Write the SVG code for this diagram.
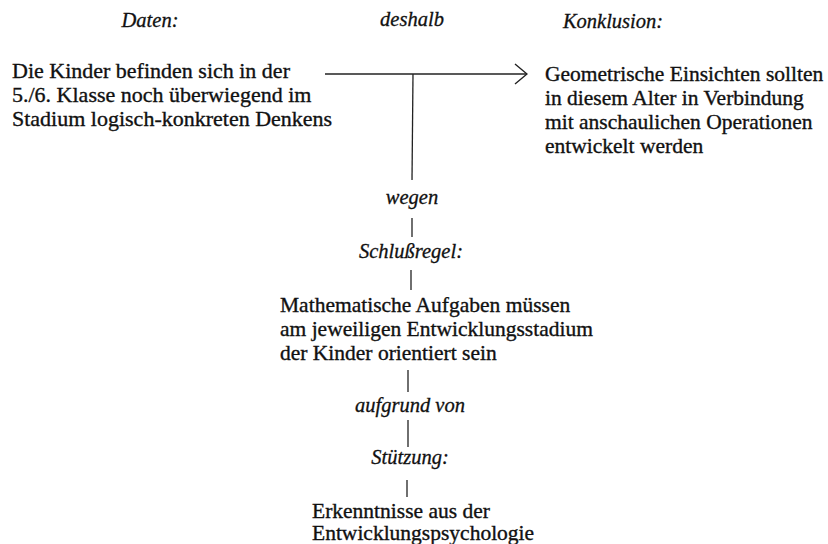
<svg xmlns="http://www.w3.org/2000/svg" width="828" height="544" viewBox="0 0 828 544">
<style>
.t{font-family:"Liberation Serif","Times New Roman",serif;font-size:21.5px;fill:#111;stroke:#111;stroke-width:0.35}
.l{font-family:"Liberation Serif","Times New Roman",serif;font-size:20.5px;font-style:italic;fill:#111;stroke:#111;stroke-width:0.3;text-anchor:middle}
.c{stroke:#222;stroke-width:1.3;fill:none}
</style>
<defs>
<marker id="arr" viewBox="0 0 14 22" refX="13" refY="11" markerWidth="14" markerHeight="22" markerUnits="userSpaceOnUse" orient="auto">
<path d="M1,1 L13,11 L1,21" fill="none" stroke="#222" stroke-width="1.4"/>
</marker>
</defs>
<rect width="828" height="544" fill="#fff"/>
<g id="headers">
<text class="l" x="150" y="27">Daten:</text>
<text class="l" x="412" y="26">deshalb</text>
<text class="l" x="613" y="28">Konklusion:</text>
</g>
<g id="daten">
<text class="t" x="12" y="78" style="font-size:22px">Die Kinder befinden sich in der</text>
<text class="t" x="12" y="102" style="font-size:22px">5./6. Klasse noch überwiegend im</text>
<text class="t" x="12" y="126" style="font-size:22px">Stadium logisch-konkreten Denkens</text>
</g>
<g id="konklusion">
<text class="t" x="545" y="81">Geometrische Einsichten sollten</text>
<text class="t" x="545" y="105">in diesem Alter in Verbindung</text>
<text class="t" x="545" y="129">mit anschaulichen Operationen</text>
<text class="t" x="545" y="153">entwickelt werden</text>
</g>
<g id="wegen"><text class="l" x="412" y="204">wegen</text></g>
<g id="schlussregel-label"><text class="l" x="411" y="258">Schlußregel:</text></g>
<g id="schlussregel">
<text class="t" x="280" y="312">Mathematische Aufgaben müssen</text>
<text class="t" x="280" y="336">am jeweiligen Entwicklungsstadium</text>
<text class="t" x="280" y="360">der Kinder orientiert sein</text>
</g>
<g id="aufgrund"><text class="l" x="410" y="412">aufgrund von</text></g>
<g id="stuetzung-label"><text class="l" x="410" y="464">Stützung:</text></g>
<g id="stuetzung">
<text class="t" x="312" y="518">Erkenntnisse aus der</text>
<text class="t" x="312" y="540">Entwicklungspsychologie</text>
</g>
<g id="connectors">
<line class="c" x1="325" y1="74" x2="527" y2="74" marker-end="url(#arr)"/>
<line class="c" x1="413" y1="74" x2="412" y2="180"/>
<line class="c" x1="412" y1="218" x2="412" y2="237"/>
<line class="c" x1="411" y1="270" x2="411" y2="290"/>
<line class="c" x1="408" y1="370" x2="408" y2="392"/>
<line class="c" x1="408" y1="420" x2="408" y2="447"/>
<line class="c" x1="407" y1="480" x2="407" y2="497"/>
</g>
</svg>
